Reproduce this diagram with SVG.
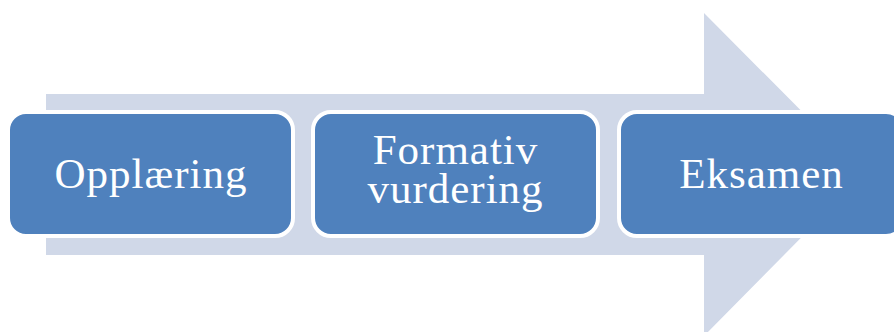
<svg xmlns="http://www.w3.org/2000/svg" width="894" height="332" viewBox="0 0 894 332">
<style>
.box{fill:#4F81BD;stroke:#FFFFFF;stroke-width:4}
.lbl{font-family:"Liberation Serif","DejaVu Serif",serif;font-size:43px;fill:#FFFFFF;text-anchor:middle;letter-spacing:1px}
</style>
<rect width="894" height="332" fill="#FFFFFF"/>
<g id="connectors">
<path id="arrow" d="M46,94 H704 V13 L864,174 L704,336 V255 H46 Z" fill="#D0D8E8"/>
</g>
<g id="node-opplaering">
<rect class="box" x="8" y="112" width="285" height="124" rx="18"/>
<text class="lbl" x="151" y="188">Opplæring</text>
</g>
<g id="node-formativ">
<rect class="box" x="313" y="112" width="285" height="124" rx="18"/>
<text class="lbl" x="455.5" y="164">Formativ</text>
<text class="lbl" x="455.5" y="203">vurdering</text>
</g>
<g id="node-eksamen">
<rect class="box" x="619" y="112" width="285" height="124" rx="18"/>
<text class="lbl" x="761.5" y="188">Eksamen</text>
</g>
</svg>
